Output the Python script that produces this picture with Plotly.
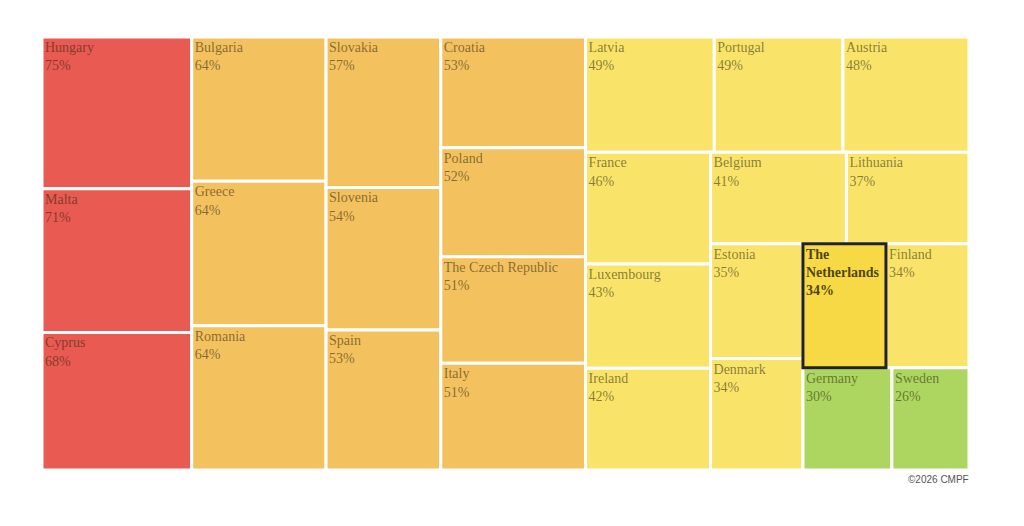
import plotly.graph_objects as go

# Share per country (%), order follows the reference layout
countries = [
    "Hungary", "Malta", "Cyprus", "Bulgaria", "Greece", "Romania",
    "Slovakia", "Slovenia", "Spain", "Croatia", "Poland", "The Czech Republic",
    "Italy", "Latvia", "Portugal", "Austria", "France", "Luxembourg",
    "Ireland", "Belgium", "Lithuania", "Estonia", "Denmark", "The Netherlands",
    "Finland", "Germany", "Sweden",
]
shares = [
    75, 71, 68, 64, 64, 64,
    57, 54, 53, 53, 52, 51,
    51, 49, 49, 48, 46, 43,
    42, 41, 37, 35, 34, 34,
    34, 30, 26,
]
highlight = "The Netherlands"


def band_colour(v, name):
    if name == highlight:
        return "#f6d944"
    if v >= 65:
        return "#e95a52"
    if v >= 50:
        return "#f3c15e"
    if v >= 34:
        return "#f9e469"
    return "#add660"


# the highlighted country sits in a one-item wrapper so it is drawn last
# (its black outline is then not covered by the neighbours' white borders)
ids, labels, parents, values = [], [], [], []
colours, line_colours, templates, text_colours = [], [], [], []
for c, v in zip(countries, shares):
    if c == highlight:
        ids.append("wrap")
        labels.append("")
        parents.append("")
        values.append(v)
        colours.append(band_colour(v, c))
        line_colours.append("white")
        templates.append("")
        text_colours.append("rgba(0,0,0,0)")
        ids.append(c)
        labels.append(c)
        parents.append("wrap")
        values.append(v)
        colours.append(band_colour(v, c))
        line_colours.append("#222222")
        templates.append("<b>The<br>Netherlands<br>%{value}%</b>")
        text_colours.append("rgba(30,25,0,0.8)")
    else:
        ids.append(c)
        labels.append(c)
        parents.append("")
        values.append(v)
        colours.append(band_colour(v, c))
        line_colours.append("white")
        templates.append("%{label}<br>%{value}%")
        text_colours.append("rgba(40,30,10,0.55)")

fig = go.Figure(go.Treemap(
    ids=ids,
    labels=labels,
    parents=parents,
    values=values,
    branchvalues="total",
    sort=False,
    texttemplate=templates,
    textposition="top left",
    textfont=dict(family="Liberation Serif", size=14, color=text_colours),
    marker=dict(colors=colours, line=dict(color=line_colours, width=3), pad=dict(t=0, l=0, r=0, b=0)),
    tiling=dict(packing="squarify", squarifyratio=1.025, pad=0),
    pathbar=dict(visible=False),
    hoverinfo="label+value",
))

fig.update_layout(
    width=1024,
    height=526,
    margin=dict(l=34, r=63, t=29, b=64),
    paper_bgcolor="white",
    uniformtext=dict(minsize=14, mode="show"),
    annotations=[dict(
        text="©2026 CMPF", x=1.002, y=-0.005, xref="paper", yref="paper",
        xanchor="right", yanchor="top", showarrow=False,
        font=dict(family="Liberation Sans", size=10, color="#555555"),
    )],
)

fig.write_html("out.html")
